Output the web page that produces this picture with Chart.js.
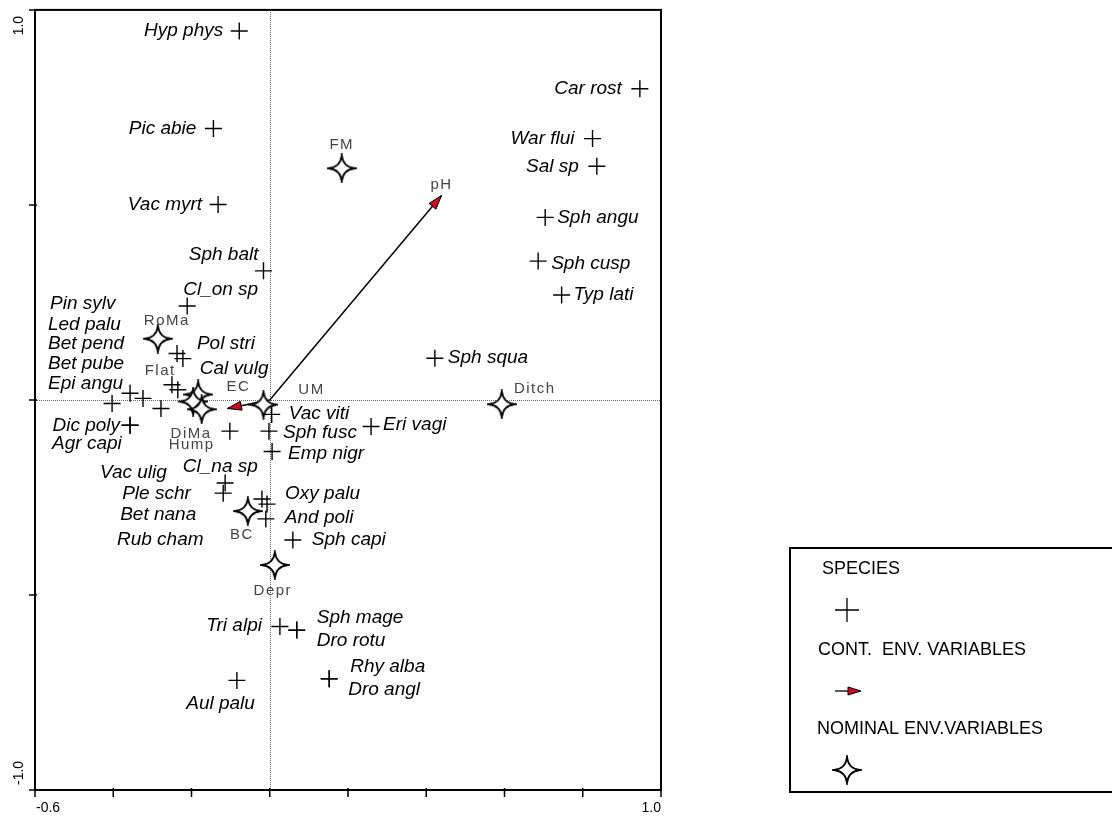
<!DOCTYPE html>
<html>
<head>
<meta charset="utf-8">
<script src="https://cdn.jsdelivr.net/npm/chart.js@4.4.1/dist/chart.umd.min.js"></script>
<style>
  html, body { margin: 0; padding: 0; background: #fff; }
  #ordination { display: block; }
</style>
</head>
<body>
<canvas id="ordination" width="1112" height="818"></canvas>
<script>
// species scores
const speciesNames = ['Hyp phys', 'Pic abie', 'Vac myrt', 'Car rost', 'War flui', 'Sal sp', 'Sph angu',
  'Sph balt', 'Sph cusp', 'Typ lati', 'Cl_on sp', 'Sph squa', 'Pin sylv', 'Pol stri', 'Led palu',
  'Cal vulg', 'Bet pend', 'Bet pube', 'Epi angu', 'Vac ulig', 'Dic poly', 'Agr capi', 'Vac viti',
  'Sph fusc', 'Emp nigr', 'Eri vagi', 'Cl_na sp', 'Ple schr', 'Bet nana', 'Rub cham', 'Oxy palu',
  'And poli', 'Sph capi', 'Tri alpi', 'Sph mage', 'Dro rotu', 'Rhy alba', 'Dro angl', 'Aul palu'];
const speciesX = [-0.078, -0.144, -0.132, 0.946, 0.825, 0.836, 0.704,
  -0.016, 0.686, 0.746, -0.211, 0.422, -0.237, -0.222, -0.250,
  -0.235, -0.357, -0.324, -0.403, -0.278, -0.357, -0.357, 0.005,
  -0.002, 0.006, 0.259, -0.102, -0.114, -0.119, -0.020, -0.007,
  -0.010, 0.059, 0.026, 0.069, 0.069, 0.152, 0.152, -0.084];
const speciesY = [0.946, 0.696, 0.501, 0.798, 0.670, 0.599, 0.468,
  0.331, 0.356, 0.269, 0.241, 0.107, 0.119, 0.106, 0.039,
  0.026, 0.017, 0.004, -0.009, -0.022, -0.065, -0.065, -0.037,
  -0.080, -0.132, -0.068, -0.080, -0.213, -0.239, -0.254, -0.267,
  -0.305, -0.359, -0.581, -0.590, -0.590, -0.715, -0.715, -0.719];

// nominal environmental variables (centroids)
const nominalNames = ['FM', 'RoMa', 'Flat', 'DiMa', 'Hump', 'UM', 'Ditch', 'BC', 'Depr'];
const nominalX = [0.184, -0.286, -0.183, -0.196, -0.174, -0.016, 0.593, -0.056, 0.013];
const nominalY = [0.594, 0.157, 0.014, -0.004, -0.024, -0.012, -0.011, -0.285, -0.423];

// continuous environmental variables (arrows)
const contNames = ['pH', 'EC'];
const contX = [0.439, -0.108];
const contY = [0.524, -0.022];

// axis ticks
const xTicks = [-0.6, -0.4, -0.2, 0.0, 0.2, 0.4, 0.6, 0.8, 1.0];
const xTickText = ['-0.6', '', '', '', '', '', '', '', '1.0'];
const yTicks = [-1.0, -0.5, 0.0, 0.5, 1.0];
const yTickText = ['-1.0', '', '', '', '1.0'];

// label placement, pixel offsets from the point: [dx, dy, align]
const speciesLabelPos = [[-16, 0, 'right'], [-17, 0, 'right'], [-16, 0, 'right'], [-18, 0, 'right'],
  [-18, 0, 'right'], [-18, 0, 'right'], [12, 0, 'left'], [-5, -16, 'right'], [13, 3, 'left'],
  [12, 0, 'left'], [-4, -16, 'left'], [13, 0, 'left'], [-127, -50, 'left'], [14, -15, 'left'],
  [-124, -60, 'left'], [22, -21, 'left'], [-82, -50, 'left'], [-95, -35, 'left'], [-64, -20, 'left'],
  [-61, 64, 'left'], [-10, 0, 'right'], [-78, 18, 'left'], [17, -1, 'left'], [14, 2, 'left'],
  [16, 2, 'left'], [12, -2, 'left'], [-47, 36, 'left'], [-103, 11, 'left'], [-103, 22, 'left'],
  [-145, 41, 'left'], [18, -10, 'left'], [19, -1, 'left'], [19, 0, 'left'], [-18, -1, 'right'],
  [20, -12, 'left'], [20, 11, 'left'], [21, -12, 'left'], [19, 11, 'left'], [18, 23, 'right']];
const nominalLabelPos = [[0, -23], [9, -18], [-38, -24], [-2, 32], [-10, 36], [48, -15], [33, -15], [-6, 24], [-2, 26]];
const contLabelPos = [[0, -11], [11, -22]];

const RED = '#cc0a24';

function makeStar(r) {
  const c = document.createElement('canvas');
  const s = Math.ceil(r * 2 + 4);
  c.width = s; c.height = s;
  const g = c.getContext('2d');
  const m = s / 2, k = r * 0.1;
  g.beginPath();
  g.moveTo(m, m - r);
  g.quadraticCurveTo(m + k, m - k, m + r, m);
  g.quadraticCurveTo(m + k, m + k, m, m + r);
  g.quadraticCurveTo(m - k, m + k, m - r, m);
  g.quadraticCurveTo(m - k, m - k, m, m - r);
  g.closePath();
  g.fillStyle = '#fff';
  g.fill();
  g.lineWidth = 1.8;
  g.strokeStyle = '#000';
  g.stroke();
  return c;
}
const star = makeStar(13);

function arrowHead(ctx, x0, y0, x1, y1, len, half) {
  const a = Math.atan2(y1 - y0, x1 - x0);
  const bx = x1 - Math.cos(a) * len, by = y1 - Math.sin(a) * len;
  ctx.beginPath();
  ctx.moveTo(x1, y1);
  ctx.lineTo(bx + Math.sin(a) * half, by - Math.cos(a) * half);
  ctx.lineTo(bx - Math.sin(a) * half, by + Math.cos(a) * half);
  ctx.closePath();
  ctx.fillStyle = RED;
  ctx.fill();
  ctx.lineWidth = 1;
  ctx.strokeStyle = '#000';
  ctx.stroke();
}

function plus(ctx, x, y, r, w) {
  ctx.beginPath();
  ctx.moveTo(x - r, y); ctx.lineTo(x + r, y);
  ctx.moveTo(x, y - r); ctx.lineTo(x, y + r);
  ctx.lineWidth = w;
  ctx.strokeStyle = '#000';
  ctx.stroke();
}

const biplotDecor = {
  id: 'biplotDecor',
  beforeDatasetsDraw(chart) {
    const { ctx, chartArea: a, scales: { x, y } } = chart;
    ctx.save();
    ctx.strokeStyle = '#666';
    ctx.lineWidth = 1;
    ctx.setLineDash([1, 1]);
    const x0 = Math.round(x.getPixelForValue(0)) + 0.5;
    const y0 = Math.round(y.getPixelForValue(0)) + 0.5;
    ctx.beginPath();
    ctx.moveTo(x0, a.top); ctx.lineTo(x0, a.bottom);
    ctx.moveTo(a.left, y0); ctx.lineTo(a.right, y0);
    ctx.stroke();
    ctx.restore();
  },
  afterDatasetsDraw(chart) {
    const { ctx, chartArea: a, scales: { x, y } } = chart;
    ctx.save();

    // arrow heads
    const ox = x.getPixelForValue(0), oy = y.getPixelForValue(0);
    contX.forEach((v, i) => {
      arrowHead(ctx, ox, oy, x.getPixelForValue(v), y.getPixelForValue(contY[i]), 14, 4.5);
    });

    // frame and ticks
    ctx.strokeStyle = '#000';
    ctx.lineWidth = 2;
    ctx.strokeRect(a.left, a.top, a.right - a.left, a.bottom - a.top);
    ctx.lineWidth = 1.5;
    ctx.beginPath();
    xTicks.forEach(v => {
      const px = x.getPixelForValue(v);
      ctx.moveTo(px, a.bottom - 2); ctx.lineTo(px, a.bottom + 7);
    });
    yTicks.forEach(v => {
      const py = y.getPixelForValue(v);
      ctx.moveTo(a.left + 2, py); ctx.lineTo(a.left - 6, py);
    });
    ctx.stroke();

    // tick labels
    ctx.fillStyle = '#000';
    ctx.font = '14px "Liberation Sans", Arial, sans-serif';
    ctx.textBaseline = 'middle';
    xTicks.forEach((v, i) => {
      if (!xTickText[i]) return;
      const px = x.getPixelForValue(v);
      ctx.textAlign = i === 0 ? 'left' : 'right';
      ctx.fillText(xTickText[i], i === 0 ? px + 1 : px, a.bottom + 18);
    });
    yTicks.forEach((v, i) => {
      if (!yTickText[i]) return;
      const py = y.getPixelForValue(v);
      ctx.save();
      ctx.translate(19, i === 0 ? py - 5 : py + 6);
      ctx.rotate(-Math.PI / 2);
      ctx.textAlign = i === 0 ? 'left' : 'right';
      ctx.fillText(yTickText[i], 0, 0);
      ctx.restore();
    });

    // species labels
    ctx.font = 'italic 19px "Liberation Sans", Arial, sans-serif';
    ctx.fillStyle = '#000';
    speciesNames.forEach((n, i) => {
      const p = speciesLabelPos[i];
      ctx.textAlign = p[2];
      ctx.fillText(n, x.getPixelForValue(speciesX[i]) + p[0], y.getPixelForValue(speciesY[i]) + p[1]);
    });

    // environmental labels
    ctx.font = '15px "Liberation Sans", Arial, sans-serif';
    ctx.letterSpacing = '1.5px';
    ctx.fillStyle = '#444';
    ctx.textAlign = 'center';
    nominalNames.forEach((n, i) => {
      const p = nominalLabelPos[i];
      ctx.fillText(n, x.getPixelForValue(nominalX[i]) + p[0], y.getPixelForValue(nominalY[i]) + p[1]);
    });
    contNames.forEach((n, i) => {
      const p = contLabelPos[i];
      ctx.fillText(n, x.getPixelForValue(contX[i]) + p[0], y.getPixelForValue(contY[i]) + p[1]);
    });
    ctx.letterSpacing = '0px';

    // legend box
    ctx.lineWidth = 2;
    ctx.strokeStyle = '#000';
    ctx.strokeRect(790, 548, 340, 244);
    ctx.font = '18px "Liberation Sans", Arial, sans-serif';
    ctx.fillStyle = '#000';
    ctx.textAlign = 'left';
    ctx.fillText('SPECIES', 822, 569);
    plus(ctx, 847, 610, 12, 1.3);
    ctx.fillText('CONT.  ENV. VARIABLES', 818, 650);
    ctx.lineWidth = 1.3;
    ctx.beginPath();
    ctx.moveTo(835, 691); ctx.lineTo(849, 691);
    ctx.stroke();
    arrowHead(ctx, 835, 691, 861, 691, 13, 4);
    ctx.fillStyle = '#000';
    ctx.fillText('NOMINAL ENV.VARIABLES', 817, 729);
    ctx.drawImage(star, 847 - star.width / 2, 770 - star.height / 2);
    ctx.restore();
  }
};

const toPoints = (xs, ys) => xs.map((v, i) => ({ x: v, y: ys[i] }));

new Chart(document.getElementById('ordination'), {
  type: 'scatter',
  data: {
    datasets: [
      {
        label: 'NOMINAL ENV.VARIABLES',
        data: toPoints(nominalX, nominalY),
        pointStyle: star,
        order: 0
      },
      ...contNames.map((n, i) => ({
        label: n,
        type: 'line',
        data: [{ x: 0, y: 0 }, { x: contX[i], y: contY[i] }],
        borderColor: '#000',
        borderWidth: 1.5,
        pointRadius: 0,
        order: 1
      })),
      {
        label: 'SPECIES',
        data: toPoints(speciesX, speciesY),
        pointStyle: 'cross',
        pointRadius: 8.5,
        borderColor: '#000',
        borderWidth: 1.4,
        order: 2
      }
    ]
  },
  options: {
    responsive: false,
    devicePixelRatio: 1,
    animation: false,
    layout: { padding: { top: 7, right: 451, left: 0, bottom: 0 } },
    plugins: { legend: { display: false }, tooltip: { enabled: false } },
    scales: {
      x: {
        type: 'linear', min: -0.6, max: 1.0,
        grid: { display: false }, border: { display: false },
        ticks: { display: false },
        afterFit(s) { s.height = 28; }
      },
      y: {
        type: 'linear', min: -1.0, max: 1.0,
        grid: { display: false }, border: { display: false },
        ticks: { display: false },
        afterFit(s) { s.width = 35; }
      }
    }
  },
  plugins: [biplotDecor]
});
</script>
</body>
</html>
